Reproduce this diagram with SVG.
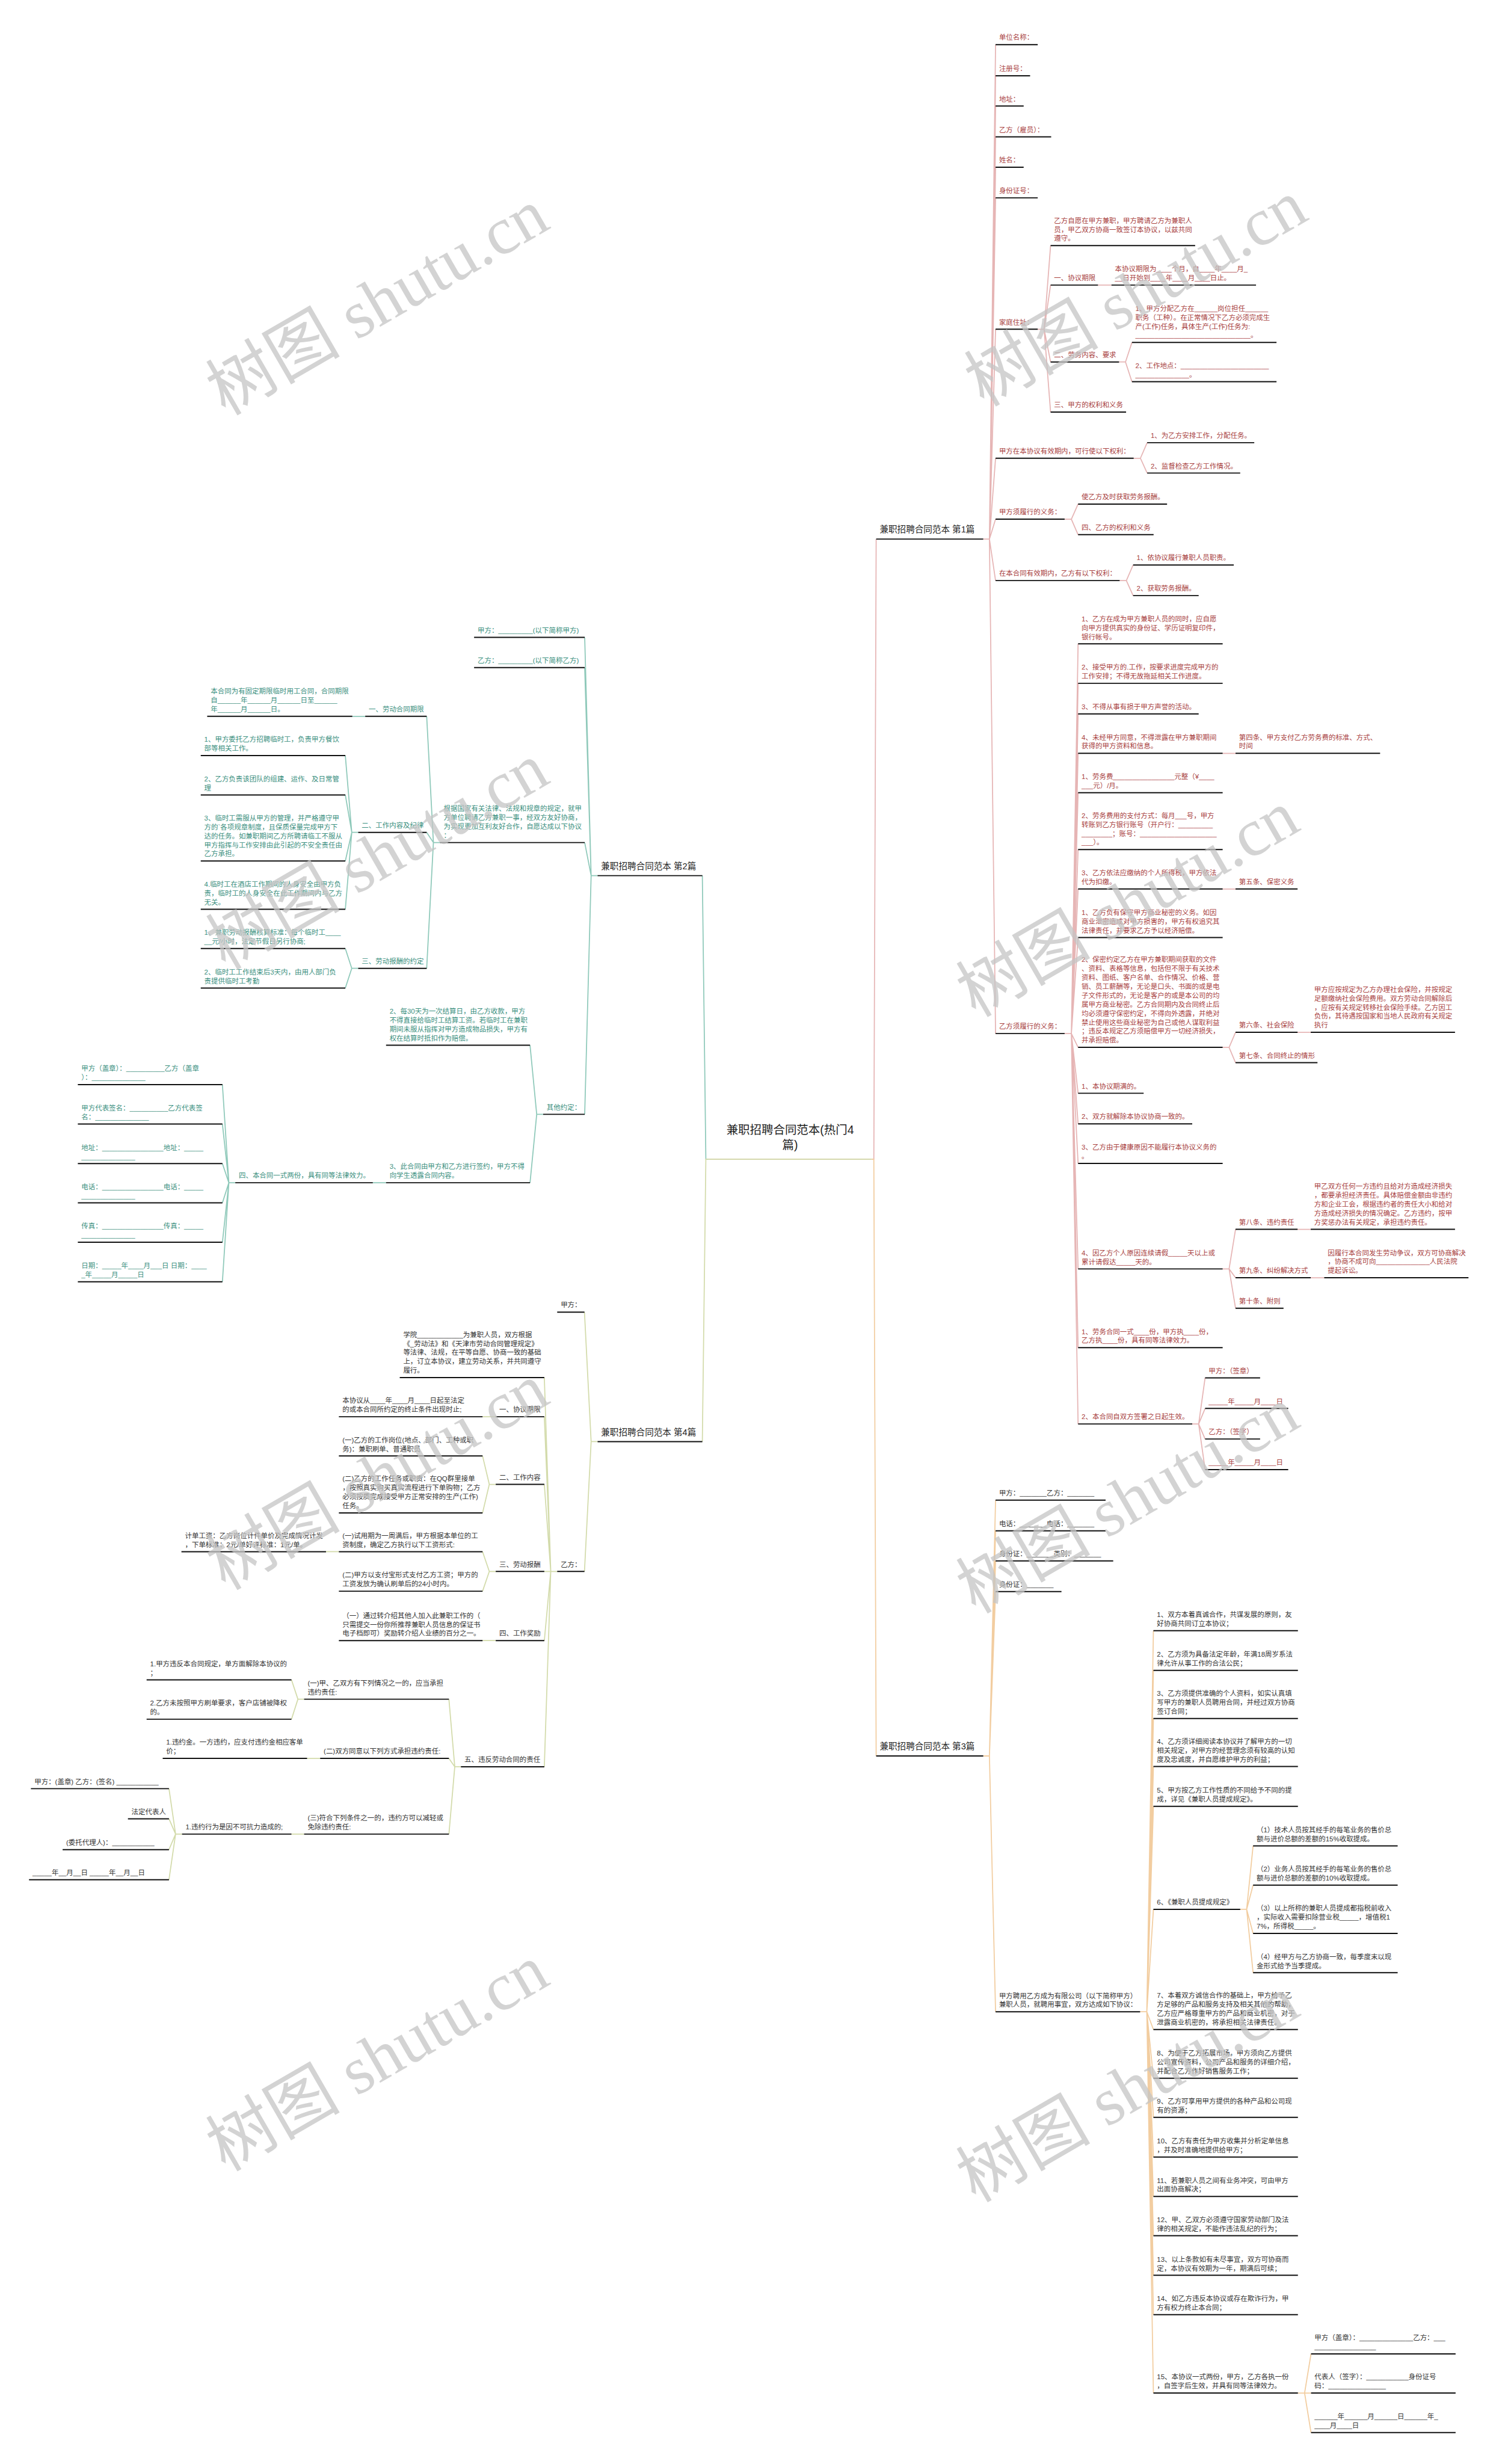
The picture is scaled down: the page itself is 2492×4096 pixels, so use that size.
<svg xmlns="http://www.w3.org/2000/svg" width="2492" height="4096" viewBox="0 0 2492 4096">
<style>
text{font-family:'Liberation Sans','Noto Sans CJK SC',sans-serif;}
.r{font-size:11.8px;fill:#a8403e;}
.g{font-size:11.8px;fill:#3a8f7e;}
.k{font-size:11.8px;fill:#333333;}
.L{font-size:15px;fill:#222222;}
.C{font-size:20px;fill:#222222;text-anchor:middle;}
.u{stroke:#111111;stroke-width:2;fill:none;}
.c1{stroke:#e6b5b5;stroke-width:1.8;fill:none;stroke-linejoin:round;}
.c2{stroke:#8fc9ba;stroke-width:1.8;fill:none;stroke-linejoin:round;}
.c3{stroke:#f2cda0;stroke-width:1.8;fill:none;stroke-linejoin:round;}
.c4{stroke:#d3dbab;stroke-width:1.8;fill:none;stroke-linejoin:round;}
.wm{font-family:'Liberation Serif','Noto Sans CJK SC',serif;font-size:115px;fill:#c4c4c4;fill-opacity:0.75;text-anchor:middle;}
</style>
<rect x="0" y="0" width="2492" height="4096" fill="#ffffff"/>
<g transform="scale(0.973)">
<g id="connectors">
<path class="c1" d="M1489 1980.4H1493L1497 921"/>
<path class="c3" d="M1489 1980.4H1493L1497 3000"/>
<path class="c2" d="M1211 1980.4H1206L1200 1496"/>
<path class="c4" d="M1211 1980.4H1206L1200 2463"/>
<path class="c1" d="M1680 921H1690.5L1701 76.3M1680 921H1690.5L1701 129.4M1680 921H1690.5L1701 181.2M1680 921H1690.5L1701 233.9M1680 921H1690.5L1701 285.7M1680 921H1690.5L1701 338M1680 921H1690.5L1701 562.5M1680 921H1690.5L1701 782.9M1680 921H1690.5L1701 887M1680 921H1690.5L1701 991.9M1680 921H1690.5L1701 1765.8"/>
<path class="c1" d="M1773 562.5H1784L1795 419.6M1773 562.5H1784L1795 487M1773 562.5H1784L1795 618.4M1773 562.5H1784L1795 704"/>
<path class="c1" d="M1876 487H1899"/>
<path class="c1" d="M1912 618.4H1923L1934 585M1912 618.4H1923L1934 652.2"/>
<path class="c1" d="M1937 782.9H1948.5L1960 756.3M1937 782.9H1948.5L1960 808.2"/>
<path class="c1" d="M1819 887H1830.5L1842 861.2M1819 887H1830.5L1842 913.5"/>
<path class="c1" d="M1913 991.9H1924.5L1936 965.3M1913 991.9H1924.5L1936 1017.6"/>
<path class="c1" d="M1819 1765.8H1830.5L1842 1100M1819 1765.8H1830.5L1842 1167.4M1819 1765.8H1830.5L1842 1219.7M1819 1765.8H1830.5L1842 1287M1819 1765.8H1830.5L1842 1354.3M1819 1765.8H1830.5L1842 1451.4M1819 1765.8H1830.5L1842 1518.8M1819 1765.8H1830.5L1842 1601.7M1819 1765.8H1830.5L1842 1789.4M1819 1765.8H1830.5L1842 1867.8M1819 1765.8H1830.5L1842 1920M1819 1765.8H1830.5L1842 1987.6M1819 1765.8H1830.5L1842 2167.9M1819 1765.8H1830.5L1842 2302.4M1819 1765.8H1830.5L1842 2432.8"/>
<path class="c1" d="M2089 1287H2111M2089 1518.8H2111"/>
<path class="c1" d="M2089 1789.4H2100L2111 1763.7M2089 1789.4H2100L2111 1815.6M2217 1763.7H2239.5"/>
<path class="c1" d="M2089 2167.9H2100L2111 2100.3M2089 2167.9H2100L2111 2183M2089 2167.9H2100L2111 2235M2217 2100.3H2239.5M2239.5 2183H2262.5"/>
<path class="c1" d="M2037 2432.8H2048L2059 2354M2037 2432.8H2048L2059 2406.3M2037 2432.8H2048L2059 2458.5M2037 2432.8H2048L2059 2510.7"/>
<path class="c2" d="M1021 1496H1010L999 1088.8M1021 1496H1010L999 1140.6M1021 1496H1010L999 1439.5M1021 1496H1010L999 1903.8"/>
<path class="c2" d="M752 1439.5H740.5L729 1223.8M752 1439.5H740.5L729 1422.1M752 1439.5H740.5L729 1654.4M624 1223.8H602"/>
<path class="c2" d="M612 1422.1H601L590 1290.8M612 1422.1H601L590 1358.1M612 1422.1H601L590 1471M612 1422.1H601L590 1553.4"/>
<path class="c2" d="M612 1654.4H601L590 1620.5M612 1654.4H601L590 1688"/>
<path class="c2" d="M928 1903.8H917L905.6 1785.8M928 1903.8H917L905.6 2020.7M659.6 2020.7H637"/>
<path class="c2" d="M402 2020.7H391L380 1853M402 2020.7H391L380 1920.4M402 2020.7H391L380 1988M402 2020.7H391L380 2055M402 2020.7H391L380 2122.4M402 2020.7H391L380 2189.8"/>
<path class="c4" d="M1021 2463H1010L998.6 2241.8M1021 2463H1010L998.6 2684.8"/>
<path class="c4" d="M952 2684.8H941L930 2353.5M952 2684.8H941L930 2420.5M952 2684.8H941L930 2536M952 2684.8H941L930 2684.8M952 2684.8H941L930 2802.9M952 2684.8H941L930 3018.4"/>
<path class="c4" d="M847 2420.5H824.5M847 2536H836L824.5 2487.5M847 2536H836L824.5 2584.7M847 2684.8H836L824.5 2651M847 2684.8H836L824.5 2718.5M579 2651H557M847 2802.9H824.5"/>
<path class="c4" d="M787.5 3018.4H777L767 2903M787.5 3018.4H777L767 3004.2M787.5 3018.4H777L767 3133.5"/>
<path class="c4" d="M519.6 2903H509L498 2869.9M519.6 2903H509L498 2937.2M547 3004.2H524.7M519.6 3133.5H498"/>
<path class="c4" d="M311 3133.5H300L288.7 3055.9M311 3133.5H300L288.7 3107.3M311 3133.5H300L288.7 3160M311 3133.5H300L288.7 3211.4"/>
<path class="c3" d="M1680 3000H1690.5L1701 2562.9M1680 3000H1690.5L1701 2615.3M1680 3000H1690.5L1701 2666.8M1680 3000H1690.5L1701 2719.2M1680 3000H1690.5L1701 3437"/>
<path class="c3" d="M1948 3437H1959.4L1970.7 2786M1948 3437H1959.4L1970.7 2853.9M1948 3437H1959.4L1970.7 2936M1948 3437H1959.4L1970.7 3018M1948 3437H1959.4L1970.7 3086M1948 3437H1959.4L1970.7 3262M1948 3437H1959.4L1970.7 3467.4M1948 3437H1959.4L1970.7 3550.6M1948 3437H1959.4L1970.7 3617.4M1948 3437H1959.4L1970.7 3685.2M1948 3437H1959.4L1970.7 3752.5M1948 3437H1959.4L1970.7 3819.7M1948 3437H1959.4L1970.7 3887.3M1948 3437H1959.4L1970.7 3954.6M1948 3437H1959.4L1970.7 4088.4"/>
<path class="c3" d="M2119 3262H2130L2141 3153.6M2119 3262H2130L2141 3220.7M2119 3262H2130L2141 3303.2M2119 3262H2130L2141 3370.3"/>
<path class="c3" d="M2217.6 4088.4H2229L2240 4021.5M2217.6 4088.4H2229L2240 4088.4M2217.6 4088.4H2229L2240 4156"/>
</g>

<g id="center"><text class="C"><tspan x="1350" y="1937">兼职招聘合同范本(热门4</tspan><tspan x="1350" y="1963">篇)</tspan></text><path d="M1211 1980.4H1489" stroke="#d5d8ad" stroke-width="2"/></g>
<g id="b1"><text class="L" x="1503" y="910">兼职招聘合同范本 第1篇</text><path class="u" d="M1497 921H1680"/></g>
<g id="b2"><text class="L" x="1027" y="1485">兼职招聘合同范本 第2篇</text><path class="u" d="M1021 1496H1200"/></g>
<g id="b3"><text class="L" x="1503" y="2989">兼职招聘合同范本 第3篇</text><path class="u" d="M1497 3000H1680"/></g>
<g id="b4"><text class="L" x="1027" y="2452">兼职招聘合同范本 第4篇</text><path class="u" d="M1021 2463H1200"/></g>

<g id="b1-n1"><text class="r" x="1707" y="68.3">单位名称：</text><path class="u" d="M1701 76.3H1773"/></g>
<g id="b1-n2"><text class="r" x="1707" y="121.4">注册号：</text><path class="u" d="M1701 129.4H1760"/></g>
<g id="b1-n3"><text class="r" x="1707" y="173.2">地址：</text><path class="u" d="M1701 181.2H1749"/></g>
<g id="b1-n4"><text class="r" x="1707" y="225.9">乙方（雇员）：</text><path class="u" d="M1701 233.9H1796"/></g>
<g id="b1-n5"><text class="r" x="1707" y="277.7">姓名：</text><path class="u" d="M1701 285.7H1749"/></g>
<g id="b1-n6"><text class="r" x="1707" y="330">身份证号：</text><path class="u" d="M1701 338H1773"/></g>
<g id="b1-n7"><text class="r" x="1707" y="554.5">家庭住址：</text><path class="u" d="M1701 562.5H1773"/></g>
<g id="b1-n7a"><text class="r"><tspan x="1801" y="381">乙方自愿在甲方兼职，甲方聘请乙方为兼职人</tspan><tspan x="1801" y="396.3">员，甲乙双方协商一致签订本协议，以兹共同</tspan><tspan x="1801" y="411.6">遵守。</tspan></text><path class="u" d="M1795 419.6H2042"/></g>
<g id="b1-n7b"><text class="r" x="1801" y="479">一、协议期限</text><path class="u" d="M1795 487H1876"/></g>
<g id="b1-n7b1"><text class="r"><tspan x="1905" y="463.7">本协议期限为____个月，自____年____月_</tspan><tspan x="1905" y="479">__日开始到____年____月____日止。</tspan></text><path class="u" d="M1899 487H2146"/></g>
<g id="b1-n7c"><text class="r" x="1801" y="610.4">二、劳务内容、要求</text><path class="u" d="M1795 618.4H1912"/></g>
<g id="b1-n7c1"><text class="r"><tspan x="1940" y="531.1">1、甲方分配乙方在______岗位担任______</tspan><tspan x="1940" y="546.4">职务（工种）。在正常情况下乙方必须完成生</tspan><tspan x="1940" y="561.7">产(工作)任务，具体生产(工作)任务为:</tspan><tspan x="1940" y="577">______________________________。</tspan></text><path class="u" d="M1934 585H2181"/></g>
<g id="b1-n7c2"><text class="r"><tspan x="1940" y="628.9">2、工作地点：_______________________</tspan><tspan x="1940" y="644.2">______________。</tspan></text><path class="u" d="M1934 652.2H2181"/></g>
<g id="b1-n7d"><text class="r" x="1801" y="696">三、甲方的权利和义务</text><path class="u" d="M1795 704H1924"/></g>
<g id="b1-n8"><text class="r" x="1707" y="774.9">甲方在本协议有效期内，可行使以下权利：</text><path class="u" d="M1701 782.9H1937"/></g>
<g id="b1-n8a"><text class="r" x="1966" y="748.3">1、为乙方安排工作，分配任务。</text><path class="u" d="M1960 756.3H2143"/></g>
<g id="b1-n8b"><text class="r" x="1966" y="800.2">2、监督检查乙方工作情况。</text><path class="u" d="M1960 808.2H2119"/></g>
<g id="b1-n9"><text class="r" x="1707" y="879">甲方须履行的义务：</text><path class="u" d="M1701 887H1819"/></g>
<g id="b1-n9a"><text class="r" x="1848" y="853.2">使乙方及时获取劳务报酬。</text><path class="u" d="M1842 861.2H1994"/></g>
<g id="b1-n9b"><text class="r" x="1848" y="905.5">四、乙方的权利和义务</text><path class="u" d="M1842 913.5H1971"/></g>
<g id="b1-n10"><text class="r" x="1707" y="983.9">在本合同有效期内，乙方有以下权利：</text><path class="u" d="M1701 991.9H1913"/></g>
<g id="b1-n10a"><text class="r" x="1942" y="957.3">1、依协议履行兼职人员职责。</text><path class="u" d="M1936 965.3H2108"/></g>
<g id="b1-n10b"><text class="r" x="1942" y="1009.6">2、获取劳务报酬。</text><path class="u" d="M1936 1017.6H2048"/></g>
<g id="b1-n11"><text class="r" x="1707" y="1757.8">乙方须履行的义务：</text><path class="u" d="M1701 1765.8H1819"/></g>
<g id="b1-n11a"><text class="r"><tspan x="1848" y="1061.4">1、乙方在成为甲方兼职人员的同时，应自愿</tspan><tspan x="1848" y="1076.7">向甲方提供真实的身份证、学历证明复印件，</tspan><tspan x="1848" y="1092">银行帐号。</tspan></text><path class="u" d="M1842 1100H2089"/></g>
<g id="b1-n11b"><text class="r"><tspan x="1848" y="1144.1">2、接受甲方的.工作，按要求进度完成甲方的</tspan><tspan x="1848" y="1159.4">工作安排；不得无故拖延相关工作进度。</tspan></text><path class="u" d="M1842 1167.4H2089"/></g>
<g id="b1-n11c"><text class="r" x="1848" y="1211.7">3、不得从事有损于甲方声誉的活动。</text><path class="u" d="M1842 1219.7H2048"/></g>
<g id="b1-n11d"><text class="r"><tspan x="1848" y="1263.7">4、未经甲方同意，不得泄露在甲方兼职期间</tspan><tspan x="1848" y="1279">获得的甲方资料和信息。</tspan></text><path class="u" d="M1842 1287H2089"/></g>
<g id="b1-n11d1"><text class="r"><tspan x="2117" y="1263.7">第四条、甲方支付乙方劳务费的标准、方式、</tspan><tspan x="2117" y="1279">时间</tspan></text><path class="u" d="M2111 1287H2358"/></g>
<g id="b1-n11e"><text class="r"><tspan x="1848" y="1331">1、劳务费________________元整（¥____</tspan><tspan x="1848" y="1346.3">___元）/月。</tspan></text><path class="u" d="M1842 1354.3H2089"/></g>
<g id="b1-n11f"><text class="r"><tspan x="1848" y="1397.5">2、劳务费用的支付方式：每月___号，甲方</tspan><tspan x="1848" y="1412.8">转账到乙方银行账号（开户行：_________</tspan><tspan x="1848" y="1428.1">________；账号：____________________</tspan><tspan x="1848" y="1443.4">___）。</tspan></text><path class="u" d="M1842 1451.4H2089"/></g>
<g id="b1-n11g"><text class="r"><tspan x="1848" y="1495.5">3、乙方依法应缴纳的个人所得税，甲方依法</tspan><tspan x="1848" y="1510.8">代为扣缴。</tspan></text><path class="u" d="M1842 1518.8H2089"/></g>
<g id="b1-n11g1"><text class="r" x="2117" y="1510.8">第五条、保密义务</text><path class="u" d="M2111 1518.8H2217"/></g>
<g id="b1-n11h"><text class="r"><tspan x="1848" y="1563.1">1、乙方负有保守甲方商业秘密的义务。如因</tspan><tspan x="1848" y="1578.4">商业泄密造成对甲方损害的，甲方有权追究其</tspan><tspan x="1848" y="1593.7">法律责任，并要求乙方予以经济赔偿。</tspan></text><path class="u" d="M1842 1601.7H2089"/></g>
<g id="b1-n11i"><text class="r"><tspan x="1848" y="1643.7">2、保密约定乙方在甲方兼职期间获取的文件</tspan><tspan x="1848" y="1659">、资料、表格等信息，包括但不限于有关技术</tspan><tspan x="1848" y="1674.3">资料、图纸、客户名单、合作情况、价格、营</tspan><tspan x="1848" y="1689.6">销、员工薪酬等，无论是口头、书面的或是电</tspan><tspan x="1848" y="1704.9">子文件形式的，无论是客户的或是本公司的均</tspan><tspan x="1848" y="1720.2">属甲方商业秘密。乙方合同期内及合同终止后</tspan><tspan x="1848" y="1735.5">均必须遵守保密约定，不得向外透露，并绝对</tspan><tspan x="1848" y="1750.8">禁止使用这些商业秘密为自己或他人谋取利益</tspan><tspan x="1848" y="1766.1">；违反本规定乙方须赔偿甲方一切经济损失，</tspan><tspan x="1848" y="1781.4">并承担赔偿。</tspan></text><path class="u" d="M1842 1789.4H2089"/></g>
<g id="b1-n11i1"><text class="r" x="2117" y="1755.7">第六条、社会保险</text><path class="u" d="M2111 1763.7H2217"/></g>
<g id="b1-n11i1a"><text class="r"><tspan x="2245.5" y="1694.5">甲方应按规定为乙方办理社会保险，并按规定</tspan><tspan x="2245.5" y="1709.8">足额缴纳社会保险费用。双方劳动合同解除后</tspan><tspan x="2245.5" y="1725.1">，应按有关规定转移社会保险手续。乙方因工</tspan><tspan x="2245.5" y="1740.4">负伤，其待遇按国家和当地人民政府有关规定</tspan><tspan x="2245.5" y="1755.7">执行</tspan></text><path class="u" d="M2239.5 1763.7H2486"/></g>
<g id="b1-n11i2"><text class="r" x="2117" y="1807.6">第七条、合同终止的情形</text><path class="u" d="M2111 1815.6H2251"/></g>
<g id="b1-n11j"><text class="r" x="1848" y="1859.8">1、本协议期满的。</text><path class="u" d="M1842 1867.8H1954"/></g>
<g id="b1-n11k"><text class="r" x="1848" y="1912">2、双方就解除本协议协商一致的。</text><path class="u" d="M1842 1920H2037"/></g>
<g id="b1-n11l"><text class="r"><tspan x="1848" y="1964.3">3、乙方由于健康原因不能履行本协议义务的</tspan><tspan x="1848" y="1979.6">。</tspan></text><path class="u" d="M1842 1987.6H2089"/></g>
<g id="b1-n11m"><text class="r"><tspan x="1848" y="2144.6">4、因乙方个人原因连续请假_____天以上或</tspan><tspan x="1848" y="2159.9">累计请假达_____天的。</tspan></text><path class="u" d="M1842 2167.9H2089"/></g>
<g id="b1-n11m1"><text class="r" x="2117" y="2092.3">第八条、违约责任</text><path class="u" d="M2111 2100.3H2217"/></g>
<g id="b1-n11m1a"><text class="r"><tspan x="2245.5" y="2031.1">甲乙双方任何一方违约且给对方造成经济损失</tspan><tspan x="2245.5" y="2046.4">，都要承担经济责任。具体赔偿金额由非违约</tspan><tspan x="2245.5" y="2061.7">方和企业工会，根据违约者的责任大小和给对</tspan><tspan x="2245.5" y="2077">方造成经济损失的情况确定。乙方违约，按甲</tspan><tspan x="2245.5" y="2092.3">方奖惩办法有关规定，承担违约责任。</tspan></text><path class="u" d="M2239.5 2100.3H2486"/></g>
<g id="b1-n11m2"><text class="r" x="2117" y="2175">第九条、纠纷解决方式</text><path class="u" d="M2111 2183H2239.5"/></g>
<g id="b1-n11m2a"><text class="r"><tspan x="2268.5" y="2144.4">因履行本合同发生劳动争议，双方可协商解决</tspan><tspan x="2268.5" y="2159.7">，协商不成可向______________人民法院</tspan><tspan x="2268.5" y="2175">提起诉讼。</tspan></text><path class="u" d="M2262.5 2183H2509"/></g>
<g id="b1-n11m3"><text class="r" x="2117" y="2227">第十条、附则</text><path class="u" d="M2111 2235H2193"/></g>
<g id="b1-n11n"><text class="r"><tspan x="1848" y="2279.1">1、劳务合同一式____份，甲方执____份，</tspan><tspan x="1848" y="2294.4">乙方执____份，具有同等法律效力。</tspan></text><path class="u" d="M1842 2302.4H2089"/></g>
<g id="b1-n11o"><text class="r" x="1848" y="2424.8">2、本合同自双方签署之日起生效。</text><path class="u" d="M1842 2432.8H2037"/></g>
<g id="b1-n11o1"><text class="r" x="2065" y="2346">甲方：（签章）</text><path class="u" d="M2059 2354H2153"/></g>
<g id="b1-n11o2"><text class="r" x="2065" y="2398.3">_____年_____月____日</text><path class="u" d="M2059 2406.3H2201"/></g>
<g id="b1-n11o3"><text class="r" x="2065" y="2450.5">乙方：（签字）</text><path class="u" d="M2059 2458.5H2153"/></g>
<g id="b1-n11o4"><text class="r" x="2065" y="2502.7">_____年_____月____日</text><path class="u" d="M2059 2510.7H2201"/></g>

<g id="b2-p1"><text class="g" x="816" y="1080.8">甲方：_________(以下简称甲方)</text><path class="u" d="M810 1088.8H999"/></g>
<g id="b2-p2"><text class="g" x="816" y="1132.6">乙方：_________(以下简称乙方)</text><path class="u" d="M810 1140.6H999"/></g>
<g id="b2-p3"><text class="g"><tspan x="758" y="1385.6">根据国家有关法律、法规和规章的规定，就甲</tspan><tspan x="758" y="1400.9">方单位聘请乙方兼职一事，经双方友好协商，</tspan><tspan x="758" y="1416.2">为实现更加互利友好合作，自愿达成以下协议</tspan><tspan x="758" y="1431.5">：</tspan></text><path class="u" d="M752 1439.5H999"/></g>
<g id="b2-p3a"><text class="g" x="630" y="1215.8">一、劳动合同期限</text><path class="u" d="M624 1223.8H729"/></g>
<g id="b2-p3a1"><text class="g"><tspan x="360" y="1185.2">本合同为有固定期限临时用工合同，合同期限</tspan><tspan x="360" y="1200.5">自______年______月______日至______</tspan><tspan x="360" y="1215.8">年______月______日。</tspan></text><path class="u" d="M354 1223.8H602"/></g>
<g id="b2-p3b"><text class="g" x="618" y="1414.1">二、工作内容及纪律</text><path class="u" d="M612 1422.1H729"/></g>
<g id="b2-p3b1"><text class="g"><tspan x="349" y="1267.5">1、甲方委托乙方招聘临时工，负责甲方餐饮</tspan><tspan x="349" y="1282.8">部等相关工作。</tspan></text><path class="u" d="M343 1290.8H590"/></g>
<g id="b2-p3b2"><text class="g"><tspan x="349" y="1334.8">2、乙方负责该团队的组建、运作、及日常管</tspan><tspan x="349" y="1350.1">理</tspan></text><path class="u" d="M343 1358.1H590"/></g>
<g id="b2-p3b3"><text class="g"><tspan x="349" y="1401.8">3、临时工需服从甲方的管理，并严格遵守甲</tspan><tspan x="349" y="1417.1">方的`各项规章制度，且保质保量完成甲方下</tspan><tspan x="349" y="1432.4">达的任务。如兼职期间乙方所聘请临工不服从</tspan><tspan x="349" y="1447.7">甲方指挥与工作安排由此引起的不安全责任由</tspan><tspan x="349" y="1463">乙方承担。</tspan></text><path class="u" d="M343 1471H590"/></g>
<g id="b2-p3b4"><text class="g"><tspan x="349" y="1514.8">4.临时工在酒店工作期间的人身安全由甲方负</tspan><tspan x="349" y="1530.1">责，临时工的人身安全在此工作期间内与乙方</tspan><tspan x="349" y="1545.4">无关。</tspan></text><path class="u" d="M343 1553.4H590"/></g>
<g id="b2-p3c"><text class="g" x="618" y="1646.4">三、劳动报酬的约定</text><path class="u" d="M612 1654.4H729"/></g>
<g id="b2-p3c1"><text class="g"><tspan x="349" y="1597.2">1、兼职劳动报酬核算标准：每个临时工____</tspan><tspan x="349" y="1612.5">__元/小时，法定节假日另行协商;</tspan></text><path class="u" d="M343 1620.5H590"/></g>
<g id="b2-p3c2"><text class="g"><tspan x="349" y="1664.7">2、临时工工作结束后3天内，由用人部门负</tspan><tspan x="349" y="1680">责提供临时工考勤</tspan></text><path class="u" d="M343 1688H590"/></g>
<g id="b2-p4"><text class="g" x="934" y="1895.8">其他约定：</text><path class="u" d="M928 1903.8H999"/></g>
<g id="b2-p4a"><text class="g"><tspan x="665.6" y="1731.9">2、每30天为一次结算日，由乙方收款，甲方</tspan><tspan x="665.6" y="1747.2">不得直接给临时工结算工资。若临时工在兼职</tspan><tspan x="665.6" y="1762.5">期间未服从指挥对甲方造成物品损失，甲方有</tspan><tspan x="665.6" y="1777.8">权在结算时抵扣作为赔偿。</tspan></text><path class="u" d="M659.6 1785.8H905.6"/></g>
<g id="b2-p4b"><text class="g"><tspan x="665.6" y="1997.4">3、此合同由甲方和乙方进行签约，甲方不得</tspan><tspan x="665.6" y="2012.7">向学生透露合同内容。</tspan></text><path class="u" d="M659.6 2020.7H905.6"/></g>
<g id="b2-p4b1"><text class="g" x="408" y="2012.7">四、本合同一式两份，具有同等法律效力。</text><path class="u" d="M402 2020.7H637"/></g>
<g id="b2-q1"><text class="g"><tspan x="139" y="1829.7">甲方（盖章）：__________乙方（盖章</tspan><tspan x="139" y="1845">）：______________</tspan></text><path class="u" d="M133 1853H380"/></g>
<g id="b2-q2"><text class="g"><tspan x="139" y="1897.1">甲方代表签名：__________乙方代表签</tspan><tspan x="139" y="1912.4">名：______________</tspan></text><path class="u" d="M133 1920.4H380"/></g>
<g id="b2-q3"><text class="g"><tspan x="139" y="1964.7">地址：________________地址：_____</tspan><tspan x="139" y="1980">______________</tspan></text><path class="u" d="M133 1988H380"/></g>
<g id="b2-q4"><text class="g"><tspan x="139" y="2031.7">电话：________________电话：_____</tspan><tspan x="139" y="2047">______________</tspan></text><path class="u" d="M133 2055H380"/></g>
<g id="b2-q5"><text class="g"><tspan x="139" y="2099.1">传真：________________传真：_____</tspan><tspan x="139" y="2114.4">______________</tspan></text><path class="u" d="M133 2122.4H380"/></g>
<g id="b2-q6"><text class="g"><tspan x="139" y="2166.5">日期：_____年____月___日 日期：____</tspan><tspan x="139" y="2181.8">_年_____月_____日</tspan></text><path class="u" d="M133 2189.8H380"/></g>

<g id="b4-s1"><text class="k" x="958" y="2233.8">甲方：</text><path class="u" d="M952 2241.8H998.6"/></g>
<g id="b4-s2"><text class="k" x="958" y="2676.8">乙方：</text><path class="u" d="M952 2684.8H998.6"/></g>
<g id="b4-s2a"><text class="k"><tspan x="689" y="2284.3">学院____________为兼职人员，双方根据</tspan><tspan x="689" y="2299.6">《_劳动法》和《天津市劳动合同管理规定》</tspan><tspan x="689" y="2314.9">等法律、法规，在平等自愿、协商一致的基础</tspan><tspan x="689" y="2330.2">上，订立本协议，建立劳动关系，并共同遵守</tspan><tspan x="689" y="2345.5">履行。</tspan></text><path class="u" d="M683 2353.5H930"/></g>
<g id="b4-s2b"><text class="k" x="853" y="2412.5">一、协议期限</text><path class="u" d="M847 2420.5H930"/></g>
<g id="b4-s2b1"><text class="k"><tspan x="585" y="2397.2">本协议从____年____月____日起至法定</tspan><tspan x="585" y="2412.5">的或本合同所约定的终止条件出现时止;</tspan></text><path class="u" d="M579 2420.5H824.5"/></g>
<g id="b4-s2c"><text class="k" x="853" y="2528">二、工作内容</text><path class="u" d="M847 2536H930"/></g>
<g id="b4-s2c1"><text class="k"><tspan x="585" y="2464.2">(一)乙方的工作岗位(地点、部门、工种或职</tspan><tspan x="585" y="2479.5">务)：兼职刷单、普通职员</tspan></text><path class="u" d="M579 2487.5H824.5"/></g>
<g id="b4-s2c2"><text class="k"><tspan x="585" y="2530.8">(二)乙方的工作任务或职责：在QQ群里接单</tspan><tspan x="585" y="2546.1">，按照真实购买真实流程进行下单购物；乙方</tspan><tspan x="585" y="2561.4">必须按质完成接受甲方正常安排的生产(工作)</tspan><tspan x="585" y="2576.7">任务。</tspan></text><path class="u" d="M579 2584.7H824.5"/></g>
<g id="b4-s2d"><text class="k" x="853" y="2676.8">三、劳动报酬</text><path class="u" d="M847 2684.8H930"/></g>
<g id="b4-s2d1"><text class="k"><tspan x="585" y="2627.7">(一)试用期为一周满后，甲方根据本单位的工</tspan><tspan x="585" y="2643">资制度，确定乙方执行以下工资形式:</tspan></text><path class="u" d="M579 2651H824.5"/></g>
<g id="b4-s2d1a"><text class="k"><tspan x="316" y="2627.7">计单工资：乙方岗位计件单价及完成情况计发</tspan><tspan x="316" y="2643">，下单标准：2元/单好评标准：1元/单。</tspan></text><path class="u" d="M310 2651H557"/></g>
<g id="b4-s2d2"><text class="k"><tspan x="585" y="2695.2">(二)甲方以支付宝形式支付乙方工资；甲方的</tspan><tspan x="585" y="2710.5">工资发放为确认刷单后的24小时内。</tspan></text><path class="u" d="M579 2718.5H824.5"/></g>
<g id="b4-s2e"><text class="k" x="853" y="2794.9">四、工作奖励</text><path class="u" d="M847 2802.9H930"/></g>
<g id="b4-s2e1"><text class="k"><tspan x="585" y="2764.3">（一）通过转介绍其他人加入此兼职工作的（</tspan><tspan x="585" y="2779.6">只需提交一份你所推荐兼职人员信息的保证书</tspan><tspan x="585" y="2794.9">电子档即可）奖励转介绍人业绩的百分之一。</tspan></text><path class="u" d="M579 2802.9H824.5"/></g>
<g id="b4-s2f"><text class="k" x="793.5" y="3010.4">五、违反劳动合同的责任</text><path class="u" d="M787.5 3018.4H930"/></g>
<g id="b4-s2f1"><text class="k"><tspan x="525.6" y="2879.7">(一)甲、乙双方有下列情况之一的，应当承担</tspan><tspan x="525.6" y="2895">违约责任:</tspan></text><path class="u" d="M519.6 2903H767"/></g>
<g id="b4-s2f1a"><text class="k"><tspan x="256.5" y="2846.6">1.甲方违反本合同规定，单方面解除本协议的</tspan><tspan x="256.5" y="2861.9">；</tspan></text><path class="u" d="M250.5 2869.9H498"/></g>
<g id="b4-s2f1b"><text class="k"><tspan x="256.5" y="2913.9">2.乙方未按照甲方刷单要求，客户店铺被降权</tspan><tspan x="256.5" y="2929.2">的。</tspan></text><path class="u" d="M250.5 2937.2H498"/></g>
<g id="b4-s2f2"><text class="k" x="553" y="2996.2">(二)双方同意以下列方式承担违约责任:</text><path class="u" d="M547 3004.2H767"/></g>
<g id="b4-s2f2a"><text class="k"><tspan x="284" y="2980.9">1.违约金。一方违约，应支付违约金相应客单</tspan><tspan x="284" y="2996.2">价；</tspan></text><path class="u" d="M278 3004.2H524.7"/></g>
<g id="b4-s2f3"><text class="k"><tspan x="525.6" y="3110.2">(三)符合下列条件之一的，违约方可以减轻或</tspan><tspan x="525.6" y="3125.5">免除违约责任:</tspan></text><path class="u" d="M519.6 3133.5H767"/></g>
<g id="b4-s2f3a"><text class="k" x="317" y="3125.5">1.违约行为是因不可抗力造成的;</text><path class="u" d="M311 3133.5H498"/></g>
<g id="b4-t1"><text class="k" x="58.8" y="3047.9">甲方：(盖章) 乙方：(签名) ___________</text><path class="u" d="M52.8 3055.9H288.7"/></g>
<g id="b4-t2"><text class="k" x="224.6" y="3099.3">法定代表人</text><path class="u" d="M218.6 3107.3H288.7"/></g>
<g id="b4-t3"><text class="k" x="113" y="3152">(委托代理人)：___________</text><path class="u" d="M107 3160H288.7"/></g>
<g id="b4-t4"><text class="k" x="55.6" y="3203.4">_____年__月__日 _____年__月__日</text><path class="u" d="M49.6 3211.4H288.7"/></g>

<g id="b3-u1"><text class="k" x="1707" y="2554.9">甲方：_______乙方：_______</text><path class="u" d="M1701 2562.9H1889"/></g>
<g id="b3-u2"><text class="k" x="1707" y="2607.3">电话：_______电话：_______</text><path class="u" d="M1701 2615.3H1889"/></g>
<g id="b3-u3"><text class="k" x="1707" y="2658.8">身份证：_______类别：_______</text><path class="u" d="M1701 2666.8H1902"/></g>
<g id="b3-u4"><text class="k" x="1707" y="2711.2">身份证：_______</text><path class="u" d="M1701 2719.2H1813.6"/></g>
<g id="b3-u5"><text class="k"><tspan x="1707" y="3413.7">甲方聘用乙方成为有限公司（以下简称甲方）</tspan><tspan x="1707" y="3429">兼职人员，就聘用事宜，双方达成如下协议：</tspan></text><path class="u" d="M1701 3437H1948"/></g>
<g id="b3-v1"><text class="k"><tspan x="1976.7" y="2762.7">1、双方本着真诚合作，共谋发展的原则，友</tspan><tspan x="1976.7" y="2778">好协商共同订立本协议；</tspan></text><path class="u" d="M1970.7 2786H2217.6"/></g>
<g id="b3-v2"><text class="k"><tspan x="1976.7" y="2830.6">2、乙方须为具备法定年龄，年满18周岁系法</tspan><tspan x="1976.7" y="2845.9">律允许从事工作的合法公民；</tspan></text><path class="u" d="M1970.7 2853.9H2217.6"/></g>
<g id="b3-v3"><text class="k"><tspan x="1976.7" y="2897.4">3、乙方须提供准确的个人资料，如实认真填</tspan><tspan x="1976.7" y="2912.7">写甲方的兼职人员聘用合同，并经过双方协商</tspan><tspan x="1976.7" y="2928">签订合同；</tspan></text><path class="u" d="M1970.7 2936H2217.6"/></g>
<g id="b3-v4"><text class="k"><tspan x="1976.7" y="2979.4">4、乙方须详细阅读本协议并了解甲方的一切</tspan><tspan x="1976.7" y="2994.7">相关规定，对甲方的经营理念须有较高的认知</tspan><tspan x="1976.7" y="3010">度及忠诚度，并自愿维护甲方的利益；</tspan></text><path class="u" d="M1970.7 3018H2217.6"/></g>
<g id="b3-v5"><text class="k"><tspan x="1976.7" y="3062.7">5、甲方按乙方工作性质的不同给予不同的提</tspan><tspan x="1976.7" y="3078">成，详见《兼职人员提成规定》。</tspan></text><path class="u" d="M1970.7 3086H2217.6"/></g>
<g id="b3-v6"><text class="k" x="1976.7" y="3254">6、《兼职人员提成规定》</text><path class="u" d="M1970.7 3262H2119"/></g>
<g id="b3-w1"><text class="k"><tspan x="2147" y="3130.3">（1）技术人员按其经手的每笔业务的售价总</tspan><tspan x="2147" y="3145.6">额与进价总额的差额的15%收取提成。</tspan></text><path class="u" d="M2141 3153.6H2388"/></g>
<g id="b3-w2"><text class="k"><tspan x="2147" y="3197.4">（2）业务人员按其经手的每笔业务的售价总</tspan><tspan x="2147" y="3212.7">额与进价总额的差额的10%收取提成。</tspan></text><path class="u" d="M2141 3220.7H2388"/></g>
<g id="b3-w3"><text class="k"><tspan x="2147" y="3264.6">（3）以上所称的兼职人员提成都指税前收入</tspan><tspan x="2147" y="3279.9">，实际收入需要扣除营业税_____，增值税1</tspan><tspan x="2147" y="3295.2">7%，所得税_____。</tspan></text><path class="u" d="M2141 3303.2H2388"/></g>
<g id="b3-w4"><text class="k"><tspan x="2147" y="3347">（4）经甲方与乙方协商一致，每季度末以现</tspan><tspan x="2147" y="3362.3">金形式给予当季提成。</tspan></text><path class="u" d="M2141 3370.3H2388"/></g>
<g id="b3-v7"><text class="k"><tspan x="1976.7" y="3413.5">7、本着双方诚信合作的基础上，甲方给予乙</tspan><tspan x="1976.7" y="3428.8">方足够的产品和服务支持及相关其他的帮助，</tspan><tspan x="1976.7" y="3444.1">乙方应严格尊重甲方的产品和商业机密，对于</tspan><tspan x="1976.7" y="3459.4">泄露商业机密的，将承担相关法律责任。</tspan></text><path class="u" d="M1970.7 3467.4H2217.6"/></g>
<g id="b3-v8"><text class="k"><tspan x="1976.7" y="3512">8、为便于乙方拓展市场，甲方须向乙方提供</tspan><tspan x="1976.7" y="3527.3">公司宣传资料，公司产品和服务的详细介绍，</tspan><tspan x="1976.7" y="3542.6">并配合乙方作好销售服务工作；</tspan></text><path class="u" d="M1970.7 3550.6H2217.6"/></g>
<g id="b3-v9"><text class="k"><tspan x="1976.7" y="3594.1">9、乙方可享用甲方提供的各种产品和公司现</tspan><tspan x="1976.7" y="3609.4">有的资源；</tspan></text><path class="u" d="M1970.7 3617.4H2217.6"/></g>
<g id="b3-v10"><text class="k"><tspan x="1976.7" y="3661.9">10、乙方有责任为甲方收集并分析定单信息</tspan><tspan x="1976.7" y="3677.2">，并及时准确地提供给甲方；</tspan></text><path class="u" d="M1970.7 3685.2H2217.6"/></g>
<g id="b3-v11"><text class="k"><tspan x="1976.7" y="3729.2">11、若兼职人员之间有业务冲突，可由甲方</tspan><tspan x="1976.7" y="3744.5">出面协商解决；</tspan></text><path class="u" d="M1970.7 3752.5H2217.6"/></g>
<g id="b3-v12"><text class="k"><tspan x="1976.7" y="3796.4">12、甲、乙双方必须遵守国家劳动部门及法</tspan><tspan x="1976.7" y="3811.7">律的相关规定，不能作违法乱纪的行为；</tspan></text><path class="u" d="M1970.7 3819.7H2217.6"/></g>
<g id="b3-v13"><text class="k"><tspan x="1976.7" y="3864">13、以上条款如有未尽事宜，双方可协商而</tspan><tspan x="1976.7" y="3879.3">定，本协议有效期为一年，期满后可续；</tspan></text><path class="u" d="M1970.7 3887.3H2217.6"/></g>
<g id="b3-v14"><text class="k"><tspan x="1976.7" y="3931.3">14、如乙方违反本协议或存在欺诈行为，甲</tspan><tspan x="1976.7" y="3946.6">方有权力终止本合同；</tspan></text><path class="u" d="M1970.7 3954.6H2217.6"/></g>
<g id="b3-v15"><text class="k"><tspan x="1976.7" y="4065.1">15、本协议一式两份，甲方，乙方各执一份</tspan><tspan x="1976.7" y="4080.4">，自签字后生效，并具有同等法律效力。</tspan></text><path class="u" d="M1970.7 4088.4H2217.6"/></g>
<g id="b3-x1"><text class="k"><tspan x="2246" y="3998.2">甲方（盖章）：______________乙方：___</tspan><tspan x="2246" y="4013.5">________________</tspan></text><path class="u" d="M2240 4021.5H2487"/></g>
<g id="b3-x2"><text class="k"><tspan x="2246" y="4065.1">代表人（签字）：___________身份证号</tspan><tspan x="2246" y="4080.4">码：_______________</tspan></text><path class="u" d="M2240 4088.4H2487"/></g>
<g id="b3-x3"><text class="k"><tspan x="2246" y="4132.7">______年______月______日______年_</tspan><tspan x="2246" y="4148">____月____日</tspan></text><path class="u" d="M2240 4156H2487"/></g>

<g id="watermark">
<text class="wm" transform="translate(644 515) rotate(-30)" dy="0.35em">树图 shutu.cn</text>
<text class="wm" transform="translate(1940 500) rotate(-30)" dy="0.35em">树图 shutu.cn</text>
<text class="wm" transform="translate(644 1462) rotate(-30)" dy="0.35em">树图 shutu.cn</text>
<text class="wm" transform="translate(1926 1543) rotate(-30)" dy="0.35em">树图 shutu.cn</text>
<text class="wm" transform="translate(644 2522) rotate(-30)" dy="0.35em">树图 shutu.cn</text>
<text class="wm" transform="translate(1926 2562) rotate(-30)" dy="0.35em">树图 shutu.cn</text>
<text class="wm" transform="translate(644 3515) rotate(-30)" dy="0.35em">树图 shutu.cn</text>
<text class="wm" transform="translate(1926 3568) rotate(-30)" dy="0.35em">树图 shutu.cn</text>
</g>
</g>
</svg>
